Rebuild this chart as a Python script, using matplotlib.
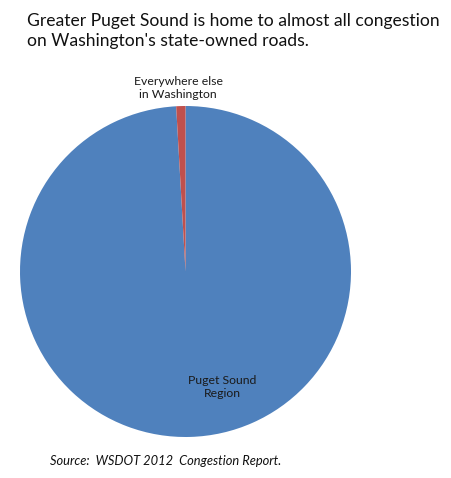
import matplotlib
matplotlib.use("Agg")
import matplotlib.pyplot as plt

# Data (share of congestion, %)
regions = ["Puget Sound\nRegion", "Everywhere else\nin Washington"]
shares = [99.1, 0.9]
colors = ["#4F81BD", "#C0504D"]

title = "Greater Puget Sound is home to almost all congestion\non Washington's state-owned roads."
source = "Source:  WSDOT 2012  Congestion Report."

W, H = 451, 478
fig = plt.figure(figsize=(W / 100, H / 100), dpi=100)
plt.rcParams["font.family"] = ["Lato", "DejaVu Sans"]

# pie sits in a square box matching the circle in the reference
ax = fig.add_axes([20 / W, (H - 437) / H, 331 / W, 331 / H])
wedges, _ = ax.pie(shares, colors=colors, startangle=90, counterclock=False,
                   radius=1.0, wedgeprops=dict(linewidth=0))
ax.set_xlim(-1, 1)
ax.set_ylim(-1, 1)
ax.axis("off")

# slice labels
ax.text(0.22, -0.70, regions[0], ha="center", va="center", fontsize=8.8,
        linespacing=1.25, color="#1a1a1a")
ax.text(-0.045, 1.11, regions[1], ha="center", va="center", fontsize=8.8,
        linespacing=1.25, color="#1a1a1a", clip_on=False)

fig.text(27 / W, 1 - 31 / H, title, ha="left", va="center", fontsize=12.6,
         linespacing=1.3, color="#111111")
fig.text(50 / W, 1 - 461 / H, source, ha="left", va="center", fontsize=9.3,
         style="italic", color="#111111")

fig.savefig("out.png", dpi=100)
